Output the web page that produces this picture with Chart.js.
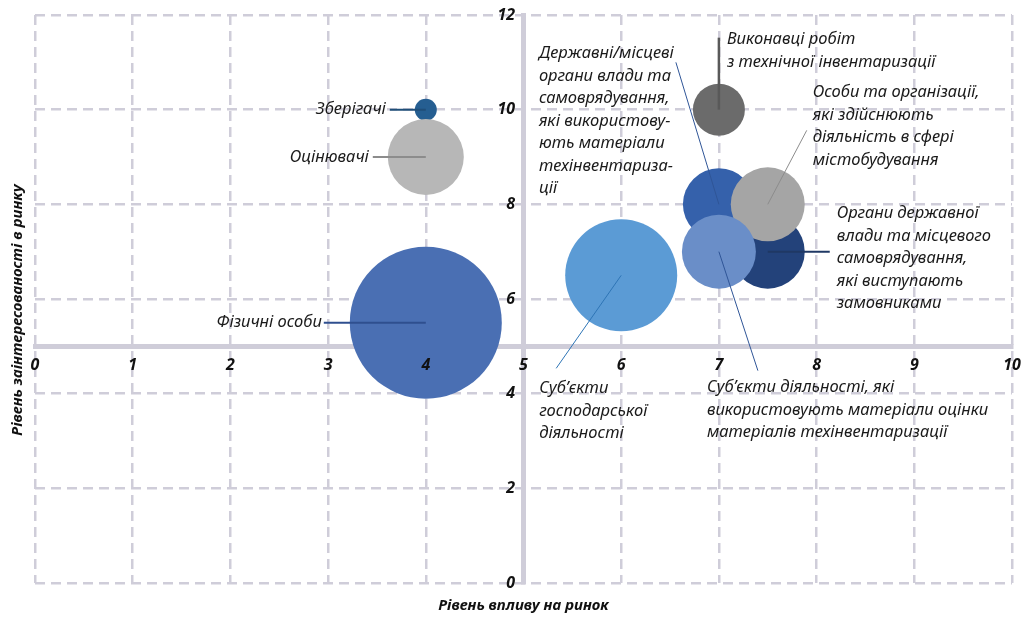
<!DOCTYPE html>
<html>
<head>
<meta charset="utf-8">
<script src="https://cdn.jsdelivr.net/npm/chart.js@4"></script>
<style>
    body { margin: 0; background: #fff; }
    canvas { display: block; }
</style>
</head>
<body>
<canvas id="stakeholderChart" width="1024" height="617"></canvas>
<script>
// chart data (order = drawing order)
const categories = [
    'Зберігачі',
    'Оцінювачі',
    'Фізичні особи',
    'Суб’єкти господарської діяльності',
    'Виконавці робіт з технічної інвентаризації',
    'Державні/місцеві органи влади та самоврядування, які використовують матеріали техінвентаризації',
    'Органи державної влади та місцевого самоврядування, які виступають замовниками',
    'Особи та організації, які здійснюють діяльність в сфері містобудування',
    'Суб’єкти діяльності, які використовують матеріали оцінки матеріалів техінвентаризації'
];
const influence = [4, 4, 4, 6, 7, 7, 7.5, 7.5, 7];
const interest = [10, 9, 5.5, 6.5, 10, 8, 7, 8, 7];
const bubbleSize = [11, 38, 76, 56, 26, 36, 37, 37, 37];
const xTicks = [0, 1, 2, 3, 4, 5, 6, 7, 8, 9, 10];
const yTicks = [0, 2, 4, 6, 8, 10, 12];

const bubbleColors = ['#255e91', '#b7b7b7', '#4a6fb3', '#5b9bd5', '#6b6b6b',
    '#3561ab', '#23427a', '#a5a5a5', '#6a8ec8'];

// callout labels: text lines, offset of text from bubble centre, leader line end
const callouts = [
    { lines: ['Зберігачі'], dx: -40, dy: 0, align: 'right', lx: -36, ly: 0, color: '#1f4e79', width: 2 },
    { lines: ['Оцінювачі'], dx: -57, dy: 0, align: 'right', lx: -53, ly: 0, color: '#8c8c8c', width: 2 },
    { lines: ['Фізичні особи'], dx: -104, dy: 0, align: 'right', lx: -102, ly: 0, color: '#2f4f8f', width: 2 },
    { lines: ['Суб’єкти', 'господарської', 'діяльності'], dx: -82, dy: 113, align: 'left', lx: -65, ly: 93, color: '#2e75b6', width: 1 },
    { lines: ['Виконавці робіт', 'з технічної інвентаризації'], dx: 8, dy: -70, align: 'left', lx: 0, ly: -72, color: '#595959', width: 2.5 },
    { lines: ['Державні/місцеві', 'органи влади та', 'самоврядування,', 'які використову-', 'ють матеріали', 'техінвентариза-', 'ції'], dx: -180, dy: -151, align: 'left', lx: -43, ly: -142, color: '#2f5597', width: 1 },
    { lines: ['Органи державної', 'влади та місцевого', 'самоврядування,', 'які виступають', 'замовниками'], dx: 69, dy: -38, align: 'left', lx: 62, ly: 0, color: '#1f3864', width: 2 },
    { lines: ['Особи та організації,', 'які здійснюють', 'діяльність в сфері', 'містобудування'], dx: 45, dy: -112, align: 'left', lx: 39, ly: -74, color: '#8c8c8c', width: 1 },
    { lines: ['Суб’єкти діяльності, які', 'використовують матеріали оцінки', 'матеріалів техінвентаризації'], dx: -12, dy: 136, align: 'left', lx: 39, ly: 119, color: '#2f5597', width: 1 }
];

const gridColor = '#cfcdd9';

// axes sit in the middle of the plot, so they must not eat into the layout
function noAxisPadding(scale) {
    scale.paddingTop = 0;
    scale.paddingBottom = 0;
    scale.paddingLeft = 0;
    scale.paddingRight = 0;
}

const calloutPlugin = {
    id: 'callouts',
    afterDatasetsDraw(chart) {
        const ctx = chart.ctx;
        const meta = chart.getDatasetMeta(0);
        ctx.save();
        callouts.forEach(function(c, i) {
            const pt = meta.data[i];
            ctx.strokeStyle = c.color;
            ctx.lineWidth = c.width;
            ctx.beginPath();
            ctx.moveTo(pt.x, pt.y);
            ctx.lineTo(pt.x + c.lx, pt.y + c.ly);
            ctx.stroke();

            ctx.fillStyle = '#1a1a1a';
            ctx.font = 'italic 16.5px "Noto Sans"';
            ctx.textAlign = c.align;
            ctx.textBaseline = 'middle';
            c.lines.forEach(function(line, k) {
                ctx.fillText(line, pt.x + c.dx, pt.y + c.dy + k * 22.5);
            });
        });
        ctx.restore();
    },
    afterDraw(chart) {
        const ctx = chart.ctx;
        const area = chart.chartArea;
        ctx.save();
        ctx.fillStyle = '#111';
        ctx.font = 'italic bold 15px "Noto Sans"';
        ctx.textAlign = 'center';
        ctx.textBaseline = 'middle';
        ctx.fillText('Рівень впливу на ринок', (area.left + area.right) / 2, 606);
        ctx.translate(18, 310);
        ctx.rotate(-Math.PI / 2);
        ctx.fillText('Рівень заінтересованості в ринку', 0, 0);
        ctx.restore();
    }
};

const ctx = document.getElementById('stakeholderChart').getContext('2d');
new Chart(ctx, {
    type: 'bubble',
    data: {
        labels: categories,
        datasets: [{
            data: categories.map(function(name, i) {
                return { x: influence[i], y: interest[i], r: bubbleSize[i] };
            }),
            backgroundColor: bubbleColors,
            borderWidth: 0,
            hoverBorderWidth: 0,
            clip: false
        }]
    },
    options: {
        responsive: false,
        animation: false,
        events: [],
        layout: { autoPadding: false, padding: { left: 35, right: 12, top: 15, bottom: 34 } },
        plugins: {
            legend: { display: false },
            tooltip: { enabled: false }
        },
        scales: {
            x: {
                type: 'linear',
                position: { y: 5 },
                min: 0,
                max: 10,
                afterBuildTicks: function(scale) {
                    scale.ticks = xTicks.map(function(v) { return { value: v }; });
                },
                afterFit: noAxisPadding,
                grid: { color: gridColor, lineWidth: 2.5, drawTicks: false },
                border: { color: gridColor, width: 5, dash: [10, 6] },
                ticks: {
                    font: { family: 'Noto Sans', size: 16, style: 'italic', weight: 'bold', lineHeight: 1.6 },
                    color: '#111', padding: 6, z: 1, maxRotation: 0
                }
            },
            y: {
                type: 'linear',
                position: { x: 5 },
                min: 0,
                max: 12,
                afterBuildTicks: function(scale) {
                    scale.ticks = yTicks.map(function(v) { return { value: v }; });
                },
                afterFit: noAxisPadding,
                grid: { color: gridColor, lineWidth: 2.5, drawTicks: false },
                border: { color: gridColor, width: 5, dash: [10, 6] },
                ticks: {
                    font: { family: 'Noto Sans', size: 16, style: 'italic', weight: 'bold' },
                    color: '#111', z: 1,
                    // keep a gap between label and the centred axis line
                    callback: function(value) { return value + '  '; }
                }
            }
        }
    },
    plugins: [calloutPlugin]
});
</script>
</body>
</html>
